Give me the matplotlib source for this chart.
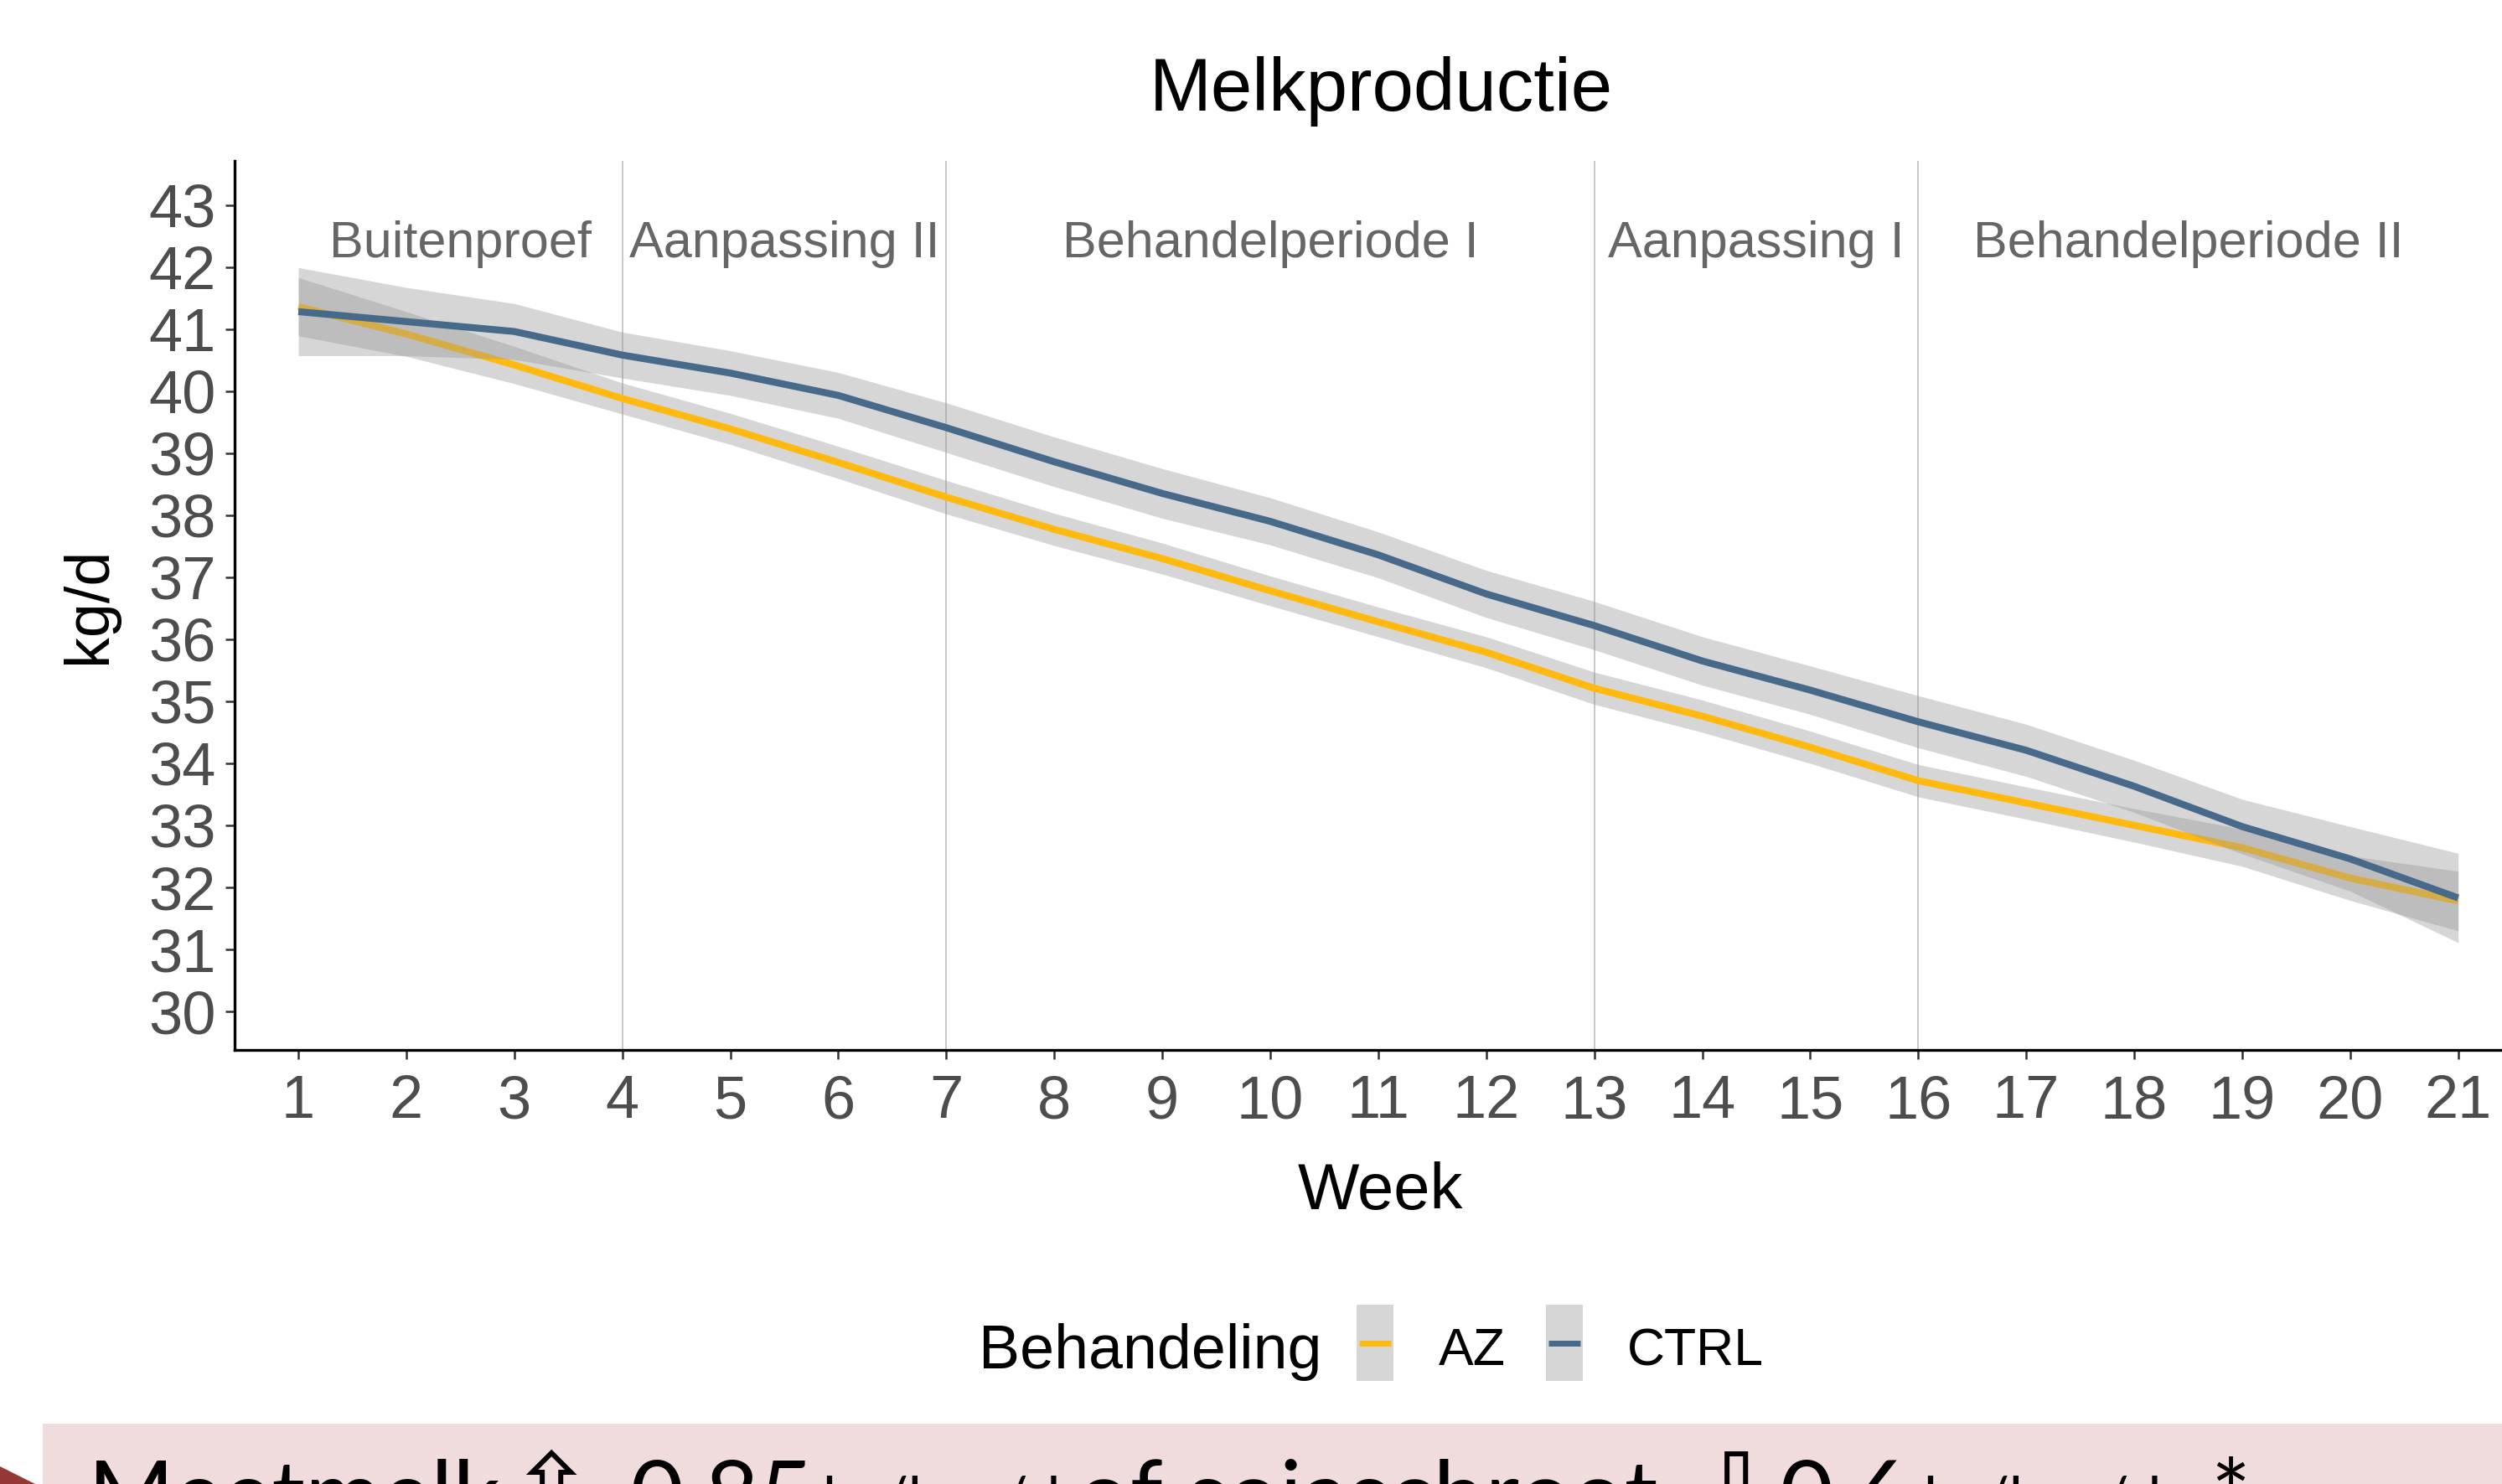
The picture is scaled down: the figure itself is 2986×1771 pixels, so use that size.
import matplotlib
matplotlib.use("Agg")
import matplotlib.pyplot as plt
from matplotlib.patches import Rectangle, Polygon
from matplotlib.lines import Line2D
import numpy as np

plt.rcParams['font.family'] = ['Liberation Sans', 'DejaVu Sans']

# ---------------- data ----------------
weeks = list(range(1, 22))
ctrl_mean = [41.28, 41.12, 40.96, 40.58, 40.29, 39.93, 39.41, 38.86, 38.35, 37.90, 37.36,
             36.73, 36.22, 35.65, 35.18, 34.67, 34.21, 33.63, 32.98, 32.46, 31.83]
ctrl_halfwidth = [0.71, 0.55, 0.45, 0.37, 0.36, 0.37, 0.40, 0.40, 0.40, 0.38, 0.37,
                  0.38, 0.39, 0.39, 0.39, 0.42, 0.42, 0.42, 0.44, 0.52, 0.72]
az_mean = [41.36, 40.92, 40.42, 39.88, 39.39, 38.85, 38.29, 37.77, 37.30, 36.78, 36.28,
           35.79, 35.21, 34.76, 34.26, 33.72, 33.36, 33.00, 32.64, 32.15, 31.78]
az_halfwidth = [0.47, 0.36, 0.30, 0.25, 0.25, 0.26, 0.27, 0.26, 0.25, 0.24, 0.24,
                0.25, 0.26, 0.26, 0.26, 0.26, 0.26, 0.27, 0.30, 0.36, 0.48]
period_bounds = [4, 7, 13, 16]
period_labels = ["Buitenproef", "Aanpassing II", "Behandelperiode I", "Aanpassing I", "Behandelperiode II"]
period_centers = [2.5, 5.5, 10, 14.5, 18.5]
y_ticks = list(range(30, 44))
x_ticks = list(range(1, 22))
series_names = ["AZ", "CTRL"]
series_colors = ["#FFB90F", "#476A8A"]

W, H = 2986, 1771
fig = plt.figure(figsize=(W / 100, H / 100), dpi=100)

def fx(px):
    return px / W

def fy(py):
    return (H - py) / H

ax = fig.add_axes([fx(280), fy(1253), fx(3011 - 280), (1253 - 192) / H])
ax.set_xlim(0.41, 21.6)
ax.set_ylim(29.38, 43.71)

for b in period_bounds:
    ax.axvline(b, color="#BEBEBE", lw=1.2, zorder=1)

az_lo = np.array(az_mean) - np.array(az_halfwidth)
az_hi = np.array(az_mean) + np.array(az_halfwidth)
ct_lo = np.array(ctrl_mean) - np.array(ctrl_halfwidth)
ct_hi = np.array(ctrl_mean) + np.array(ctrl_halfwidth)

ax.fill_between(weeks, az_lo, az_hi, color="#999999", alpha=0.4, lw=0, zorder=2)
ax.plot(weeks, az_mean, color=series_colors[0], lw=6, zorder=3, solid_capstyle="butt")
ax.fill_between(weeks, ct_lo, ct_hi, color="#999999", alpha=0.4, lw=0, zorder=4)
ax.plot(weeks, ctrl_mean, color=series_colors[1], lw=6, zorder=5, solid_capstyle="butt")

for lab, c in zip(period_labels, period_centers):
    ax.text(c, 42.16, lab, ha="center", va="baseline", fontsize=44, color="#666666", zorder=6)

ax.set_xticks(x_ticks)
ax.set_yticks(y_ticks)
ax.tick_params(axis="both", length=7.9, width=1.8, color="#333333",
               labelsize=52, labelcolor="#4D4D4D")
ax.tick_params(axis="y", pad=8)
ax.tick_params(axis="x", pad=13)
for s in ["top", "right"]:
    ax.spines[s].set_visible(False)
for s in ["left", "bottom"]:
    ax.spines[s].set_linewidth(2.4)
    ax.spines[s].set_color("black")

# titles
fig.text(fx(1648), fy(132), "Melkproductie", ha="center", va="baseline", fontsize=64, color="black")
fig.text(fx(1647), fy(1443), "Week", ha="center", va="baseline", fontsize=56, color="black")
fig.text(fx(126), fy(722), "kg/d", ha="center", va="baseline", rotation=90,
         rotation_mode="anchor", fontsize=53, color="black")

# legend (manual, ggplot style)
fig.text(fx(1577), fy(1633), "Behandeling", ha="right", va="baseline", fontsize=53, color="black")
key_x = [1619, 1845]
lab_x = [1717, 1942]
for kx, lx, name, col in zip(key_x, lab_x, series_names, series_colors):
    fig.patches.append(Rectangle((fx(kx), fy(1648)), 44 / W, 91 / H, transform=fig.transFigure,
                                 facecolor="#D6D6D6", edgecolor="none"))
    fig.lines.append(Line2D([fx(kx + 3), fx(kx + 41)], [fy(1603), fy(1603)], transform=fig.transFigure,
                            color=col, lw=5, solid_capstyle="butt"))
    fig.text(fx(lx), fy(1629), name, ha="left", va="baseline", fontsize=45, color="black")

# slide remnant at bottom: pink box with statement
fig.patches.append(Rectangle((fx(51), 0), 1 - fx(51), fy(1699), transform=fig.transFigure,
                             facecolor="#F0DCDC", edgecolor="none"))
fig.patches.append(Polygon([[0, fy(1750)], [fx(42), fy(1771)], [0, fy(1771)]], closed=True,
                           transform=fig.transFigure, facecolor="#953735", edgecolor="none"))
big = 80
small = 50
fam = ["Lato", "DejaVu Sans"]
pieces = [(105, "Meetmelk", big, 1822), (606, "\u21E7", 88, 1822), (752, "0.85", big, 1822),
          (981, "kg/koe/d", small, 1812), (1286, "of sojaschroot", big, 1822),
          (2020, "\u21E9", 88, 1822), (2124, "0.6", big, 1822),
          (2295, "kg/koe/d", small, 1812), (2638, "*", big, 1822)]
for px, t, sz, base in pieces:
    fam_t = ["DejaVu Sans"] if t in ("\u21E7", "\u21E9") else fam
    fig.text(fx(px), fy(base), t, ha="left", va="baseline", fontsize=sz, color="black", family=fam_t)

fig.savefig("out.png", dpi=100)
